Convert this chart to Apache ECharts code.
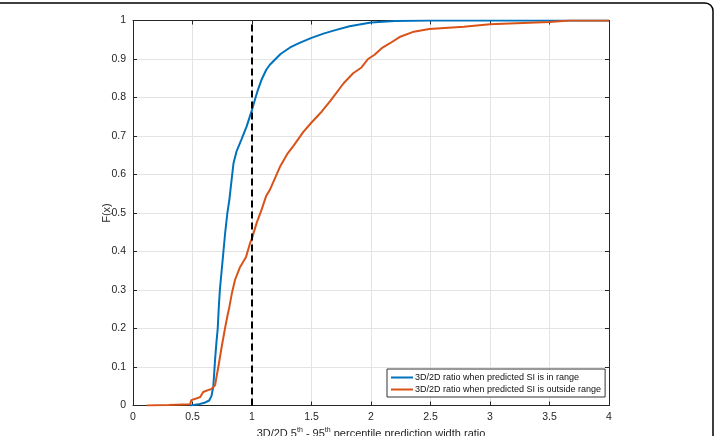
<!DOCTYPE html>
<html>
<head>
<meta charset="utf-8">
<title>CDF of 3D/2D prediction width ratio</title>
<script src="https://cdn.jsdelivr.net/npm/echarts@6/dist/echarts.min.js"></script>
<style>
html, body { margin: 0; padding: 0; background: #fff; }
#main { width: 715px; height: 436px; }
</style>
</head>
<body>
<div id="main"></div>
<script type="text/javascript">
// data: [ratio, F(x)]
var inRange = [
  [0.48, 0], [0.55, 0.003], [0.6, 0.007], [0.64, 0.013], [0.66, 0.025], [0.675, 0.05],
  [0.69, 0.12], [0.70, 0.16], [0.712, 0.2], [0.72, 0.25], [0.73, 0.3], [0.745, 0.35],
  [0.76, 0.4], [0.775, 0.45], [0.793, 0.5], [0.81, 0.535], [0.83, 0.59], [0.845, 0.63],
  [0.87, 0.66], [0.91, 0.69], [0.955, 0.725], [1.0, 0.768], [1.03, 0.8], [1.05, 0.82],
  [1.08, 0.846], [1.12, 0.872], [1.15, 0.885], [1.24, 0.913], [1.32, 0.93], [1.40, 0.942],
  [1.5, 0.955], [1.6, 0.966], [1.7, 0.975], [1.82, 0.985], [2.0, 0.995], [2.2, 0.999],
  [2.5, 1.0], [4.0, 1.0]
];
var outsideRange = [
  [0.115, 0], [0.3, 0.001], [0.48, 0.003], [0.49, 0.014], [0.53, 0.018], [0.565, 0.022],
  [0.59, 0.035], [0.63, 0.04], [0.66, 0.043], [0.69, 0.053], [0.705, 0.08], [0.717, 0.1],
  [0.745, 0.152], [0.773, 0.2], [0.795, 0.235], [0.81, 0.256], [0.83, 0.29], [0.857, 0.326],
  [0.9, 0.36], [0.95, 0.386], [0.983, 0.421], [1.0, 0.434], [1.04, 0.475], [1.08, 0.508],
  [1.12, 0.545], [1.15, 0.56], [1.2, 0.595], [1.235, 0.62], [1.3, 0.655], [1.35, 0.675],
  [1.43, 0.71], [1.5, 0.735], [1.585, 0.763], [1.66, 0.792], [1.77, 0.837], [1.85, 0.863],
  [1.92, 0.878], [1.975, 0.9], [2.03, 0.911], [2.09, 0.928], [2.16, 0.941], [2.24, 0.957],
  [2.36, 0.971], [2.49, 0.978], [2.78, 0.984], [3.0, 0.99], [3.22, 0.993], [3.5, 0.996],
  [3.67, 1.0], [4.0, 1.0]
];
var refLine = [[1, 0], [1, 1]];
var seriesNames = [
  '3D/2D ratio when predicted SI is in range',
  '3D/2D ratio when predicted SI is outside range'
];

var chart = echarts.init(document.getElementById('main'));
var axisColor = '#262626';
var font = 'Liberation Sans, Arial, sans-serif';

function axisBase(extra) {
  var a = {
    type: 'value',
    axisLine: { show: true, onZero: false, lineStyle: { color: axisColor, width: 1 } },
    axisTick: { show: true, inside: true, length: 4, lineStyle: { color: axisColor } },
    splitLine: { show: false },
    axisLabel: { show: false }
  };
  for (var k in extra) a[k] = extra[k];
  return a;
}

var option = {
  animation: false,
  backgroundColor: '#fff',
  grid: { left: 133, top: 20.5, width: 476, height: 385, outerBoundsMode: 'none', containLabel: false },
  xAxis: [
    axisBase({
      min: 0, max: 4, interval: 0.5, position: 'bottom',
      splitLine: { show: true, lineStyle: { color: '#e3e3e3', width: 1 } },
      axisLabel: { show: true, color: axisColor, fontSize: 10.5, fontFamily: font, margin: 6 },
      name: '{n|3D/2D 5}{s|th}{n| - 95}{s|th}{n| percentile prediction width ratio}',
      nameLocation: 'middle', nameGap: 21, nameMoveOverlap: false,
      nameTextStyle: {
        rich: {
          n: { fontSize: 11, color: axisColor, fontFamily: font, verticalAlign: 'bottom' },
          s: { fontSize: 7, color: axisColor, fontFamily: font, verticalAlign: 'top', padding: [0, 0, 6, 0] }
        }
      }
    }),
    axisBase({ min: 0, max: 4, interval: 0.5, position: 'top' })
  ],
  yAxis: [
    axisBase({
      min: 0, max: 1, interval: 0.1, position: 'left',
      splitLine: { show: true, lineStyle: { color: '#e3e3e3', width: 1 } },
      axisLabel: { show: true, color: axisColor, fontSize: 10.5, fontFamily: font, margin: 7 },
      name: 'F(x)', nameLocation: 'middle', nameGap: 21, nameMoveOverlap: false,
      nameTextStyle: { color: axisColor, fontSize: 11, fontFamily: font }
    }),
    axisBase({ min: 0, max: 1, interval: 0.1, position: 'right' })
  ],
  legend: {
    data: seriesNames,
    orient: 'vertical',
    left: 387, top: 369,
    padding: [4, 4, 3, 4],
    itemGap: 3,
    icon: 'rect',
    itemWidth: 22, itemHeight: 2,
    backgroundColor: '#fff',
    borderColor: '#333',
    borderWidth: 1,
    borderRadius: 0,
    textStyle: { fontSize: 9, color: '#111', fontFamily: font, padding: [0, 0, 0, -3] }
  },
  graphic: [{
    type: 'rect',
    shape: { x: -20, y: 3, width: 733, height: 480, r: 8 },
    style: { fill: null, stroke: '#000', lineWidth: 1.5 },
    silent: true
  }],
  series: [
    {
      name: seriesNames[0], type: 'line', data: inRange, symbol: 'none',
      lineStyle: { color: '#0072BD', width: 2 }, itemStyle: { color: '#0072BD' }
    },
    {
      name: seriesNames[1], type: 'line', data: outsideRange, symbol: 'none',
      lineStyle: { color: '#D95319', width: 2 }, itemStyle: { color: '#D95319' }
    },
    {
      name: 'x = 1', type: 'line', data: refLine, symbol: 'none',
      lineStyle: { color: '#000', width: 2, type: [7, 4] }, z: 3
    }
  ]
};
chart.setOption(option);
</script>
</body>
</html>
